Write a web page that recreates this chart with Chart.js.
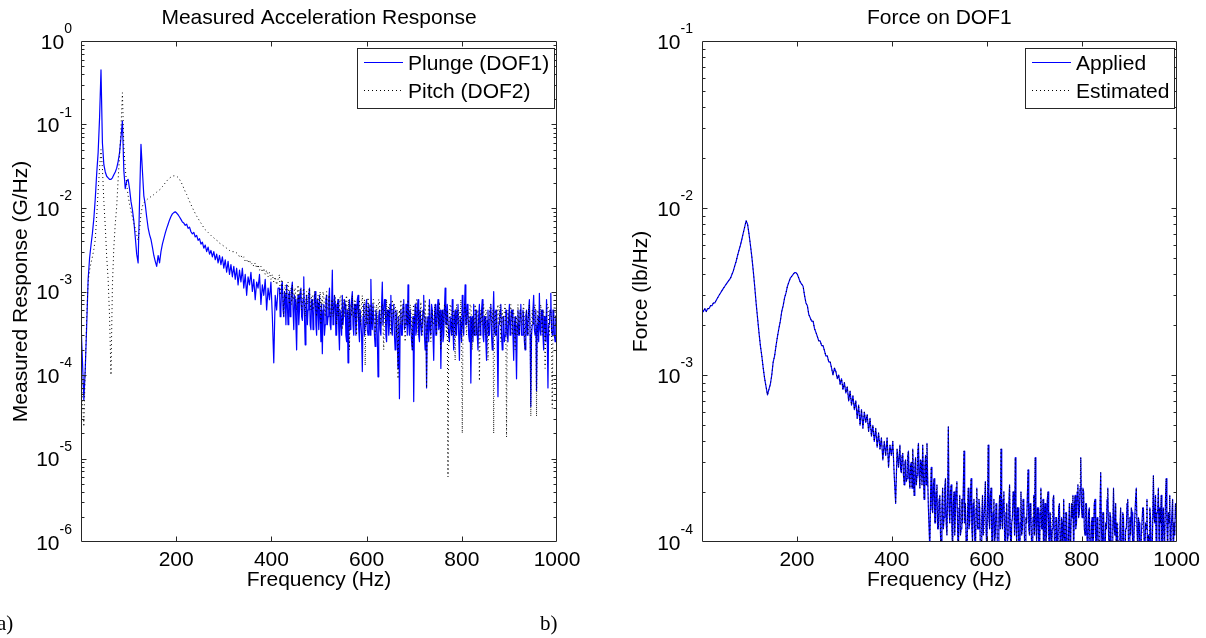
<!DOCTYPE html>
<html>
<head>
<meta charset="utf-8">
<title>Measured Acceleration Response / Force on DOF1</title>
<script src="https://cdn.jsdelivr.net/npm/chart.js@4.4.1/dist/chart.umd.min.js"></script>
<style>
  html, body { margin: 0; padding: 0; background: #fff; }
  #figure { position: relative; width: 1206px; height: 638px; overflow: hidden; }
  .panel { position: absolute; top: 0; width: 603px; height: 638px; }
  #panelA { left: 0; }
  #panelB { left: 603px; }
  .tag { position: absolute; top: 611px; line-height: 21px; font: 21px "Liberation Serif", "Times New Roman", serif; color: #000; }
</style>
</head>
<body>
<div id="figure">
  <div class="panel" id="panelA"><canvas id="responseChart" width="603" height="638"></canvas></div>
  <div class="panel" id="panelB"><canvas id="forceChart" width="603" height="638"></canvas></div>
  <div class="tag" style="left:-3px">a)</div>
  <div class="tag" style="left:540px">b)</div>
</div>
<script>
  // Low band: 0 ... 414 Hz every 3 Hz. High band: 417 ... 999 Hz every 1.5 Hz
  const LOW_STEP = 3;
  const HIGH_START = 417;
  const HIGH_STEP = 1.5;

  // Panel a) measured acceleration, G/Hz
  const plungeLow = [
    4.2e-4, 1.5e-4, 5e-5, 1.2e-4, 4e-4, 1.4e-3, 2.5e-3, 3.6e-3, 5e-3, 7.5e-3,
    1.3e-2, 2.6e-2, 4.6e-2, 0.12, 0.45, 0.06, 0.033, 0.027, 0.024, 0.023,
    0.022, 0.022, 0.023, 0.025, 0.027, 0.03, 0.036, 0.046, 0.07, 0.11,
    0.028, 0.017, 0.021, 0.022, 0.017, 0.012, 0.0095, 0.007, 0.0045, 0.0028,
    0.0022, 0.012, 0.058, 0.028, 0.014, 0.011, 0.0078, 0.0058, 0.0048, 0.0042,
    0.0034, 0.0027, 0.0023, 0.002, 0.0027, 0.0022, 0.003, 0.0037, 0.0043, 0.005,
    0.0057, 0.0064, 0.0072, 0.0079, 0.0085, 0.0088, 0.009, 0.0087, 0.0083, 0.0078,
    0.0073, 0.0068, 0.0066, 0.0062, 0.0064, 0.0057, 0.0059, 0.0052, 0.0049, 0.0051,
    0.0045, 0.0047, 0.0041, 0.0043, 0.0037, 0.0039, 0.0033, 0.0036, 0.003, 0.0034,
    0.0028, 0.0031, 0.0026, 0.003, 0.0024, 0.0028, 0.0022, 0.0027, 0.0021, 0.0026,
    0.0019, 0.0024, 0.0017, 0.0023, 0.0016, 0.0021, 0.0015, 0.002, 0.0014, 0.0019,
    0.0012, 0.0018, 0.0013, 0.0019, 0.0011, 0.0016, 0.0009, 0.0015, 0.0012, 0.0017,
    0.001, 0.0014, 0.0008, 0.0013, 0.0011, 0.0016, 0.0007, 0.0012, 0.0009, 0.0014,
    0.0006, 0.0011, 0.0008, 0.0013, 0.0005, 0.00014, 0.0009, 0.0006, 0.0011
  ];
  const plungeHigh = [
    1.1e-3, 5e-4, 6e-4, 1.2e-3, 1.3e-3, 6e-4, 5e-4, 1e-3, 9e-4, 4e-4, 1.2e-3, 7e-4, 4e-4, 9e-4, 1e-3, 5e-4, 7e-4, 1.1e-3, 1.3e-3, 6e-4,
    3.5e-4, 9e-4, 8e-4, 4e-4, 2e-4, 7e-4, 9e-4, 4e-4, 6e-4, 1e-3, 1.1e-3, 5e-4, 4.5e-4, 8e-4, 1.5e-3, 5e-4, 2.3e-4, 7e-4, 9e-4, 4e-4,
    6e-4, 9e-4, 1.1e-3, 4e-4, 3.5e-4, 8e-4, 8e-4, 3.5e-4, 5e-4, 9e-4, 1e-3, 4e-4, 3e-4, 8e-4, 7e-4, 3.5e-4, 9e-4, 5e-4, 2.5e-4, 7e-4,
    1.8e-4, 6e-4, 7e-4, 3e-4, 4e-4, 8e-4, 9e-4, 4e-4, 5e-4, 8e-4, 1.1e-3, 4e-4, 3.5e-4, 7e-4, 1.8e-3, 4e-4, 5e-4, 9e-4, 7e-4, 3e-4,
    3e-4, 7e-4, 8e-4, 3.5e-4, 2e-4, 6e-4, 6e-4, 3e-4, 9e-4, 4e-4, 4e-4, 8e-4, 7e-4, 3e-4, 2.5e-4, 6e-4, 1.4e-4, 5e-4, 8e-4, 3.5e-4,
    5e-4, 8e-4, 1e-3, 4e-4, 3e-4, 7e-4, 7e-4, 3e-4, 4.5e-4, 8e-4, 9e-4, 3.5e-4, 2.5e-4, 6e-4, 6e-4, 3e-4, 1.1e-4, 5e-4, 7e-4, 3e-4,
    4e-4, 7e-4, 8e-4, 3.5e-4, 3e-4, 7e-4, 6e-4, 3e-4, 1.4e-3, 5e-4, 3.5e-4, 7e-4, 7e-4, 3e-4, 2.2e-4, 6e-4, 5e-4, 3e-4, 9.5e-5, 5e-4,
    6e-4, 3.5e-4, 3e-4, 7e-4, 1.3e-3, 4e-4, 4e-4, 8e-4, 8e-4, 3e-4, 2.5e-4, 6e-4, 6e-4, 3e-4, 4e-4, 7e-4, 9e-4, 3.5e-4, 3e-4, 6e-4,
    7e-4, 3e-4, 2e-4, 6e-4, 5e-4, 2.5e-4, 1.2e-4, 5e-4, 5.2e-5, 4e-4, 6e-4, 3e-4, 3e-4, 7e-4, 8e-4, 3.5e-4, 4e-4, 7e-4, 7e-4, 3e-4,
    1.2e-3, 4e-4, 3e-4, 6e-4, 6e-4, 2.5e-4, 2e-4, 5e-4, 4.8e-5, 4e-4, 7e-4, 3e-4, 3.5e-4, 6e-4, 8e-4, 3e-4, 2.5e-4, 6e-4, 6e-4, 3e-4,
    4e-4, 6e-4, 9e-4, 3e-4, 2e-4, 5e-4, 7e-5, 4e-4, 5e-4, 2.5e-4, 8e-4, 3.5e-4, 3e-4, 7e-4, 6e-4, 3e-4, 1.5e-4, 5e-4, 7e-4, 3e-4,
    3e-4, 6e-4, 8e-4, 3.5e-4, 4e-4, 6e-4, 1.2e-4, 4e-4, 6e-4, 2.5e-4, 3e-4, 6e-4, 1.1e-3, 4e-4, 4e-4, 7e-4, 7e-4, 3e-4, 2.5e-4, 5e-4,
    5e-4, 3e-4, 8e-4, 3.5e-4, 2e-4, 5e-4, 6e-4, 3e-4, 3e-4, 6e-4, 7e-4, 3e-4, 1.5e-4, 5e-4, 5e-4, 2.5e-4, 9e-4, 4e-4, 3e-4, 6e-4,
    1.2e-3, 4e-4, 4e-4, 7e-4, 6e-4, 3e-4, 2.5e-4, 5e-4, 8e-5, 3.5e-4, 5e-4, 2.5e-4, 7e-4, 3e-4, 3e-4, 6e-4, 6e-4, 3e-4, 2e-4, 5e-4,
    7e-4, 3e-4, 4e-4, 6e-4, 8e-4, 3e-4, 2.5e-4, 5e-4, 5e-4, 2.5e-4, 1.5e-4, 4.5e-4, 6e-4, 3e-4, 3e-4, 6e-4, 7e-4, 3e-4, 2e-4, 5e-4,
    1e-3, 3.5e-4, 3e-4, 6e-4, 6e-4, 2.5e-4, 5.5e-5, 4e-4, 4e-4, 6e-4, 7e-4, 3e-4, 2e-4, 5e-4, 5e-4, 2.5e-4, 3e-4, 6e-4, 6e-4, 3e-4,
    2.5e-4, 5e-4, 7e-4, 3e-4, 4e-4, 6e-4, 6e-4, 3e-4, 1.5e-4, 4e-4, 5e-4, 2.5e-4, 9e-5, 4e-4, 6e-4, 3e-4, 3e-4, 6e-4, 7e-4, 3e-4,
    3e-4, 6e-4, 5e-4, 2.5e-4, 2e-4, 5e-4, 6e-4, 3e-4, 4e-4, 6e-4, 8e-4, 3e-4, 4.2e-5, 3e-4, 4e-4, 6e-4, 9e-4, 3.5e-4, 3e-4, 6e-4,
    6.5e-5, 4e-4, 5e-4, 2.5e-4, 9.5e-4, 3.5e-4, 3e-4, 6e-4, 6e-4, 3e-4, 2e-4, 5e-4, 5e-4, 2.5e-4, 8e-4, 3e-4, 7e-5, 4e-4, 4e-4, 6e-4,
    9.5e-4, 3.5e-4, 3e-4, 6e-4, 6e-4, 3e-4, 2.5e-4, 5e-4, 5e-4
  ];

  const pitchLow = [
    1.5e-4, 5e-5, 2.4e-5, 1.2e-4, 5e-4, 1.3e-3, 1.8e-3, 2.2e-3, 2.6e-3, 3.2e-3,
    4.2e-3, 8e-3, 0.016, 0.03, 0.05, 0.03, 0.012, 6e-3, 2.6e-3, 1.4e-3,
    5e-4, 1e-4, 1.2e-3, 3.4e-3, 6.5e-3, 0.0104, 0.022, 0.042, 0.09, 0.24,
    0.055, 0.03, 0.019, 0.014, 0.011, 0.0092, 0.0078, 0.0066, 0.0057, 0.0048,
    0.0041, 0.0055, 0.0085, 0.0105, 0.0115, 0.012, 0.0125, 0.013, 0.0133, 0.0137,
    0.014, 0.0145, 0.015, 0.0155, 0.016, 0.0165, 0.017, 0.018, 0.019, 0.02,
    0.021, 0.022, 0.0228, 0.0235, 0.024, 0.0243, 0.0243, 0.024, 0.0232, 0.022,
    0.0205, 0.019, 0.0172, 0.0157, 0.0145, 0.0132, 0.012, 0.011, 0.0101, 0.0093,
    0.0086, 0.008, 0.0075, 0.007, 0.0066, 0.0062, 0.0058, 0.0055, 0.0053, 0.0051,
    0.0049, 0.0047, 0.0045, 0.0044, 0.0042, 0.0041, 0.004, 0.0038, 0.0037, 0.0036,
    0.0035, 0.0034, 0.0033, 0.0032, 0.0031, 0.0031, 0.003, 0.003, 0.0029, 0.0029,
    0.0028, 0.0026, 0.0027, 0.0025, 0.0026, 0.0023, 0.0024, 0.0022, 0.0024, 0.0021,
    0.0022, 0.002, 0.0022, 0.0019, 0.0021, 0.0018, 0.002, 0.0017, 0.0019, 0.0016,
    0.0018, 0.0015, 0.0017, 0.0014, 0.0016, 0.0013, 0.0015, 0.0012, 0.0014
  ];
  const pitchHigh = [
    1.6e-3, 9e-4, 1.1e-3, 1.4e-3, 1.3e-3, 8e-4, 5e-4, 1e-3, 1.2e-3, 8e-4, 9e-4, 1.2e-3, 1.3e-3, 8e-4, 7e-4, 1.1e-3, 1.1e-3, 7e-4, 1.2e-3, 8e-4,
    8e-4, 1.1e-3, 1.1e-3, 7e-4, 6e-4, 9e-4, 1.2e-3, 7e-4, 9e-4, 1.1e-3, 1e-3, 6e-4, 7e-4, 1e-3, 1.1e-3, 7e-4, 5e-4, 8e-4, 1e-3, 7e-4,
    8e-4, 1e-3, 1.1e-3, 7e-4, 6e-4, 9e-4, 9e-4, 6e-4, 7e-4, 1e-3, 1e-3, 6e-4, 5e-4, 8e-4, 9e-4, 6e-4, 8e-4, 1e-3, 4e-4, 8e-4,
    7e-4, 1e-3, 9e-4, 6e-4, 5e-4, 8e-4, 1e-3, 6e-4, 6e-4, 9e-4, 9e-4, 5e-4, 5e-4, 8e-4, 8e-4, 5e-4, 7e-4, 9e-4, 9e-4, 6e-4,
    4e-4, 7e-4, 8e-4, 5e-4, 6e-4, 9e-4, 9e-4, 5e-4, 3.5e-4, 7e-4, 8e-4, 5e-4, 6e-4, 8e-4, 9e-4, 5e-4, 5e-4, 8e-4, 2e-4, 7e-4,
    7e-4, 5e-4, 9e-4, 6e-4, 5e-4, 8e-4, 8e-4, 4e-4, 3e-4, 7e-4, 7e-4, 4.5e-4, 8e-4, 5e-4, 4e-4, 7e-4, 9e-4, 5e-4, 6e-4, 8e-4,
    1.3e-4, 6e-4, 7e-4, 4e-4, 8.5e-4, 5e-4, 4e-4, 7e-4, 7e-4, 4e-4, 5e-4, 8e-4, 8e-4, 4.5e-4, 3e-4, 6e-4, 7e-4, 4e-4, 6e-4, 8e-4,
    8e-4, 5e-4, 4e-4, 7e-4, 7e-4, 4e-4, 2e-4, 6e-4, 6e-4, 4e-4, 8e-4, 5e-4, 5e-4, 7e-4, 7e-4, 4e-4, 3e-4, 6e-4, 8e-4, 5e-4,
    5e-4, 7e-4, 7e-4, 4e-4, 3e-4, 6e-4, 9e-5, 5e-4, 6e-4, 4e-4, 8e-4, 5e-4, 4e-4, 7e-4, 7e-4, 4e-4, 2.5e-4, 5e-4, 6e-4, 4e-4,
    8e-4, 4.5e-4, 4e-4, 7e-4, 6e-4, 4e-4, 2e-4, 6e-4, 7e-4, 4e-4, 5e-4, 7e-4, 8e-4, 4.5e-4, 3e-4, 6e-4, 6e-4, 4e-4, 7.5e-4, 4.5e-4,
    3e-4, 6e-4, 6e-4, 4e-4, 8e-4, 4.5e-4, 7e-5, 4e-4, 5e-4, 7e-4, 7e-4, 4e-4, 2.5e-4, 5e-4, 6e-4, 4e-4, 4e-4, 6e-4, 7e-4, 4e-4,
    3e-4, 6e-4, 6e-4, 4e-4, 7.5e-4, 4e-4, 2e-4, 5e-4, 6e-4, 4e-4, 4e-4, 7e-4, 7e-4, 4e-4, 3e-4, 6e-4, 6e-6, 4e-4, 5e-4, 7e-4,
    7e-4, 4e-4, 3e-4, 6e-4, 6e-4, 4e-4, 1.5e-4, 5e-4, 7e-4, 4e-4, 4e-4, 6e-4, 6e-4, 4e-4, 8e-4, 4.5e-4, 2e-5, 4e-4, 5e-4, 7e-4,
    7e-4, 4e-4, 3e-4, 6e-4, 6e-4, 4e-4, 4e-4, 7e-4, 7e-4, 4e-4, 2e-4, 5e-4, 5e-4, 3e-4, 7e-4, 4e-4, 3e-4, 6e-4, 6e-4, 4e-4,
    8.5e-5, 4e-4, 6e-4, 4e-4, 4e-4, 6e-4, 7e-4, 4e-4, 3e-4, 6e-4, 6e-4, 4e-4, 1.5e-4, 4e-4, 5e-4, 7e-4, 7e-4, 4e-4, 4e-4, 6e-4,
    2e-5, 4e-4, 6e-4, 4e-4, 3e-4, 6e-4, 7e-4, 4e-4, 5e-4, 7e-4, 2.5e-4, 5e-4, 6e-4, 4e-4, 4e-4, 6e-4, 7e-4, 4e-4, 1.8e-5, 4e-4,
    6e-4, 4e-4, 4e-4, 6e-4, 7e-4, 4e-4, 3e-4, 6e-4, 6e-4, 4e-4, 2e-4, 5e-4, 5e-4, 3e-4, 7e-4, 4e-4, 3e-4, 6e-4, 6e-4, 4e-4,
    4e-4, 6e-4, 7e-4, 4e-4, 2e-4, 5e-4, 6e-4, 4e-4, 3e-4, 6e-4, 7e-4, 4e-4, 3.2e-5, 4e-4, 6e-4, 4e-4, 4e-4, 6e-4, 7e-4, 4e-4,
    3.2e-5, 4e-4, 6e-4, 4e-4, 4e-4, 6e-4, 7e-4, 4e-4, 3e-4, 6e-4, 6e-4, 4e-4, 1.2e-4, 4e-4, 5e-4, 7e-4, 7e-4, 4e-4, 3e-4, 6e-4,
    6e-4, 4e-4, 4e-5, 4e-4, 5e-4, 7e-4, 7e-4, 4e-4, 4e-4
  ];

  // Panel b) force on DOF1, lb/Hz
  const appliedLow = [
    0.00245, 0.0024, 0.0025, 0.0024, 0.0025, 0.0025, 0.0026, 0.0026, 0.0027, 0.0027,
    0.0028, 0.0029, 0.003, 0.0031, 0.0032, 0.0033, 0.0034, 0.0035, 0.0036, 0.0037,
    0.0038, 0.004, 0.0042, 0.0045, 0.0048, 0.0052, 0.0056, 0.006, 0.0065, 0.0071,
    0.0077, 0.0084, 0.008, 0.007, 0.006, 0.0051, 0.0042, 0.0034, 0.0027, 0.0022,
    0.0018, 0.0015, 0.0013, 0.0011, 0.00095, 0.00085, 0.00076, 0.00082, 0.00088, 0.001,
    0.0012, 0.0013, 0.0015, 0.0017, 0.0019, 0.0021, 0.0024, 0.0026, 0.0029, 0.0031,
    0.0034, 0.0036, 0.0038, 0.0039, 0.004, 0.0041, 0.0041, 0.004, 0.0038, 0.0036,
    0.0035, 0.0034, 0.003, 0.0027, 0.0026, 0.0023, 0.0022, 0.0021, 0.0021, 0.0019,
    0.0018, 0.0017, 0.0016, 0.0016, 0.0015, 0.0015, 0.0014, 0.0013, 0.0013, 0.0012,
    0.0012, 0.0011, 0.001, 0.0011, 0.00105, 0.00095, 0.001, 0.00088, 0.00095, 0.00082,
    0.0009, 0.00078, 0.00085, 0.0007, 0.0008, 0.00066, 0.00075, 0.00062, 0.0007, 0.00055,
    0.00066, 0.0005, 0.00062, 0.00048, 0.0006, 0.00052, 0.00058, 0.00046, 0.00055, 0.00043,
    0.0005, 0.0004, 0.00048, 0.00037, 0.00045, 0.00036, 0.00042, 0.00031, 0.0004, 0.00033,
    0.00042, 0.00028, 0.00038, 0.00033, 0.0004, 0.00025, 0.00017, 0.00036, 0.00028
  ];
  const appliedHigh = [
    0.00038, 0.00027,
    0.00026, 0.00033, 0.00034, 0.00025, 0.00022, 0.0003, 0.00031, 0.00023, 0.00024, 0.00033, 0.00035, 0.00024, 0.00021, 0.00029, 0.0003, 0.00021, 0.00036, 0.00025, 0.00019, 0.00028,
    0.00032, 0.00022, 0.00025, 0.00034, 0.00039, 0.00026, 0.00021, 0.00031, 0.0003, 0.00022, 0.00038, 0.00025, 0.00018, 0.00028, 0.00033, 0.00022, 0.00039, 0.00024, 0.00016, 0.00012,
    0.00009, 0.00019, 0.00028, 0.00016, 0.00015, 0.00022, 0.00024, 0.00013, 0.00013, 0.0002, 0.00022, 0.00012, 0.00012, 0.00018, 0.00019, 0.00011, 0.00008, 0.00016, 0.00021, 0.00012,
    0.00014, 0.00021, 0.00024, 0.00013, 0.00011, 0.00019, 0.00049, 0.00016, 0.00013, 0.0002, 0.00022, 0.00012, 0.00009, 0.00017, 0.0002, 0.00011, 0.00015, 0.00021, 0.00023, 0.00012,
    0.00008, 0.00016, 0.00019, 0.00011, 0.00012, 0.00018, 0.00013, 0.00021, 0.00035, 0.00013, 0.00017, 0.0001, 0.00007, 0.00015, 0.00021, 0.00012, 0.00013, 0.00019, 0.00024, 0.00012,
    0.0001, 0.00017, 0.00018, 0.00011, 0.00008, 0.00016, 0.00021, 0.00012, 0.00012, 0.00018, 0.00016, 0.00009, 0.00007, 0.00014, 0.00019, 0.00011, 0.00011, 0.00017, 0.00023, 0.00012,
    0.00009, 0.00016, 0.00038, 0.00014, 0.00012, 0.00019, 0.00021, 0.00011, 0.00008, 0.00015, 0.00018, 0.0001, 0.00011, 0.00017, 0.00015, 0.00009, 0.00007, 0.00014, 0.00019, 0.00012,
    0.00036, 0.00014, 0.00012, 0.00018, 0.0002, 0.00011, 0.00008, 0.00015, 0.00017, 0.0001, 0.00011, 0.00017, 0.00022, 0.00012, 0.00007, 0.00013, 0.00014, 0.0002, 0.00019, 0.00011,
    0.00032, 0.00013, 0.0001, 0.00016, 0.00016, 0.00009, 0.00006, 0.00013, 0.0002, 0.00011, 0.00012, 0.00018, 0.00017, 0.0001, 0.00008, 0.00014, 0.00013, 0.00019, 0.00027, 0.00012,
    0.00011, 0.00017, 0.00015, 0.00009, 0.00007, 0.00014, 0.00019, 0.00011, 0.00032, 0.00013, 0.0001, 0.00016, 0.00016, 0.00009, 0.00008, 0.00015, 0.00021, 0.00012, 0.00012, 0.00018,
    0.00006, 0.00013, 0.00017, 0.0001, 0.00011, 0.00018, 0.0002, 0.00011, 0.00008, 0.00015, 0.00015, 0.00009, 0.00012, 0.00018, 0.00019, 0.0001, 0.00007, 0.00014, 0.00014, 0.00009,
    0.0001, 0.00016, 0.00017, 0.0001, 0.00008, 0.00014, 0.00013, 0.00008, 0.00018, 0.00011, 0.00009, 0.00015, 0.00015, 0.00009, 0.00006, 0.00012, 0.00017, 0.0001, 0.00011, 0.00017,
    0.00014, 0.00019, 0.00008, 0.00016, 0.00019, 0.00012, 0.00013, 0.0002, 0.00022, 0.00014, 0.00015, 0.00021, 0.00032, 0.00016, 0.00014, 0.00021, 0.0002, 0.00012, 0.00011, 0.00017,
    0.00017, 0.0001, 0.00009, 0.00015, 0.00016, 0.00009, 0.00007, 0.00013, 0.00014, 0.00009, 0.00011, 0.00017, 0.00018, 0.0001, 0.00008, 0.00014, 0.00013, 0.00008, 0.0001, 0.00016,
    0.00026, 0.00012, 0.00009, 0.00015, 0.00015, 0.00009, 0.00007, 0.00013, 0.00012, 0.00018, 0.00021, 0.00011, 0.00009, 0.00015, 0.00014, 0.00008, 0.00006, 0.00012, 0.00021, 0.00012,
    0.00011, 0.00017, 0.00008, 0.00013, 0.00013, 0.00008, 0.00007, 0.00012, 0.00016, 0.00009, 0.0001, 0.00015, 0.00014, 0.00008, 0.00006, 0.00012, 0.00012, 0.00017, 0.00018, 0.0001,
    0.00008, 0.00014, 0.00011, 0.00016, 0.00015, 0.00009, 0.00007, 0.00012, 0.00012, 0.00018, 0.00021, 0.00012, 0.00009, 0.00014, 0.00013, 0.00008, 0.00006, 0.00011, 0.00011, 0.00016,
    0.00016, 0.0001, 0.00008, 0.00013, 0.00012, 0.00018, 0.00006, 0.00011, 0.0001, 0.00016, 0.00014, 0.00009, 0.00007, 0.00013, 0.00025, 0.00014, 0.00013, 0.00019, 0.00009, 0.00015,
    0.00015, 0.00021, 0.0001, 0.00016, 0.00013, 0.00019, 0.00007, 0.00013, 0.00016, 0.0001, 0.00011, 0.00018, 0.00024, 0.00013, 0.00009, 0.00015, 0.00013, 0.00019, 0.00006, 0.00012,
    0.00012, 0.00018, 0.00008, 0.00013, 0.00011, 0.00017, 0.00014
  ];
  // the estimate sits right on top of the applied force in the plot
  const estimatedLow = appliedLow;
  const estimatedHigh = appliedHigh;

  const xTicks = [200, 400, 600, 800, 1000];

  const FONT = '"Liberation Sans", Arial, Helvetica, sans-serif';
  const AXIS_COLOR = '#262626';

  function toPoints(low, high) {
    const lowPts = low.map((v, i) => ({ x: i * LOW_STEP, y: v }));
    const highPts = high.map((v, i) => ({ x: HIGH_START + i * HIGH_STEP, y: v }));
    return lowPts.concat(highPts);
  }

  // MATLAB look: boxed axes, inward ticks, 10^n labels, title and legend box
  const matlabFrame = {
    id: 'matlabFrame',
    afterDatasetsDraw(chart, args, opts) {
      const { ctx, chartArea: area } = chart;
      const xScale = chart.scales.x;
      const yScale = chart.scales.y;
      const left = Math.round(area.left) + 0.5;
      const right = Math.round(area.right) - 0.5;
      const top = Math.round(area.top) + 0.5;
      const bottom = Math.round(area.bottom) - 0.5;

      ctx.save();
      ctx.strokeStyle = AXIS_COLOR;
      ctx.lineWidth = 1;
      ctx.beginPath();
      ctx.rect(left, top, right - left, bottom - top);

      xScale.ticks.forEach(tick => {
        if (tick.value <= xScale.min || tick.value >= xScale.max) return;
        const px = Math.round(xScale.getPixelForValue(tick.value)) + 0.5;
        ctx.moveTo(px, bottom); ctx.lineTo(px, bottom - 5);
        ctx.moveTo(px, top); ctx.lineTo(px, top + 5);
      });

      const lowExp = Math.round(Math.log10(yScale.min));
      const highExp = Math.round(Math.log10(yScale.max));
      for (let e = lowExp; e < highExp; e++) {
        for (let m = 1; m <= 9; m++) {
          const py = Math.round(yScale.getPixelForValue(m * Math.pow(10, e))) + 0.5;
          if (py >= bottom - 1 || py <= top + 1) continue;
          const len = m === 1 ? 5 : 3;
          ctx.moveTo(left, py); ctx.lineTo(left + len, py);
          ctx.moveTo(right, py); ctx.lineTo(right - len, py);
        }
      }
      ctx.stroke();

      // decade labels as 10 with a raised exponent
      ctx.fillStyle = '#000';
      ctx.textBaseline = 'alphabetic';
      for (let e = lowExp; e <= highExp; e++) {
        const py = yScale.getPixelForValue(Math.pow(10, e));
        const exp = String(e);
        const xEnd = area.left - 9;
        ctx.font = '14px ' + FONT;
        const expWidth = ctx.measureText(exp).width;
        ctx.textAlign = 'left';
        ctx.fillText(exp, xEnd - expWidth, py - 8);
        ctx.font = '21px ' + FONT;
        ctx.textAlign = 'right';
        ctx.fillText('10', xEnd - expWidth, py + 7.5);
      }

      // title centred over the axes
      ctx.font = '21px ' + FONT;
      ctx.textAlign = 'center';
      ctx.fillText(opts.title, (area.left + area.right) / 2, 24);

      // legend box in the upper right corner
      const sets = chart.data.datasets;
      const textWidth = Math.max(...sets.map(d => ctx.measureText(d.label).width));
      const boxRight = Math.round(area.right) - 3;
      const boxLeft = Math.round(boxRight - (51 + textWidth + 5));
      const boxTop = Math.round(area.top) + 7;
      ctx.fillStyle = '#fff';
      ctx.fillRect(boxLeft, boxTop, boxRight - boxLeft, 60);
      ctx.strokeStyle = AXIS_COLOR;
      ctx.strokeRect(boxLeft + 0.5, boxTop + 0.5, boxRight - boxLeft, 60);
      ctx.textAlign = 'left';
      sets.forEach((d, i) => {
        const baseY = boxTop + 22 + i * 28;
        const lineY = Math.round(baseY - 8) + 0.5;
        ctx.strokeStyle = d.borderColor;
        ctx.lineWidth = 1;
        ctx.setLineDash(d.borderDash || []);
        ctx.beginPath();
        ctx.moveTo(boxLeft + 7, lineY);
        ctx.lineTo(boxLeft + 46, lineY);
        ctx.stroke();
        ctx.setLineDash([]);
        ctx.fillStyle = '#000';
        ctx.fillText(d.label, boxLeft + 51, baseY);
      });
      ctx.restore();
    }
  };

  function lineSet(label, points, color, width, dash, order) {
    return {
      label: label,
      data: points,
      borderColor: color,
      borderWidth: width,
      borderDash: dash,
      borderJoinStyle: 'round',
      pointRadius: 0,
      tension: 0,
      fill: false,
      order: order
    };
  }

  function makeOptions(cfg) {
    return {
      responsive: false,
      animation: false,
      events: [],
      layout: { padding: { top: 41, right: cfg.rightPad, bottom: 0, left: 0 } },
      plugins: {
        legend: { display: false },
        tooltip: { enabled: false },
        matlabFrame: { title: cfg.title }
      },
      scales: {
        x: {
          type: 'linear',
          min: 0,
          max: 1000,
          grid: { display: false, drawTicks: false },
          border: { display: false },
          afterBuildTicks: scale => { scale.ticks = xTicks.map(v => ({ value: v })); },
          ticks: {
            autoSkip: false,
            maxRotation: 0,
            padding: 6,
            color: '#000',
            font: { family: FONT, size: 21 },
            callback: v => String(v)
          },
          title: {
            display: true,
            text: 'Frequency (Hz)',
            color: '#000',
            font: { family: FONT, size: 21 },
            padding: { top: 0, bottom: 45 }
          },
          afterFit: scale => { scale.height = 96; }
        },
        y: {
          type: 'logarithmic',
          min: cfg.yMin,
          max: cfg.yMax,
          grid: { display: false, drawTicks: false },
          border: { display: false },
          ticks: { display: false },
          title: {
            display: true,
            text: cfg.yTitle,
            color: '#000',
            font: { family: FONT, size: 21 },
            padding: { top: cfg.yTitlePad, bottom: 0 }
          },
          afterFit: scale => { scale.width = cfg.yWidth; }
        }
      }
    };
  }

  new Chart(document.getElementById('responseChart'), {
    type: 'line',
    data: {
      datasets: [
        lineSet('Plunge (DOF1)', toPoints(plungeLow, plungeHigh), '#0000ff', 1.2, [], 1),
        lineSet('Pitch (DOF2)', toPoints(pitchLow, pitchHigh), '#000000', 1, [1, 3], 0)
      ]
    },
    options: makeOptions({
      title: 'Measured Acceleration Response',
      yTitle: 'Measured Response (G/Hz)',
      yMin: 1e-6, yMax: 1,
      yWidth: 81, yTitlePad: 9, rightPad: 46
    }),
    plugins: [matlabFrame]
  });

  new Chart(document.getElementById('forceChart'), {
    type: 'line',
    data: {
      datasets: [
        lineSet('Applied', toPoints(appliedLow, appliedHigh), '#0000ff', 1.2, [], 1),
        lineSet('Estimated', toPoints(estimatedLow, estimatedHigh), '#000000', 1, [1, 3], 0)
      ]
    },
    options: makeOptions({
      title: 'Force on DOF1',
      yTitle: 'Force (lb/Hz)',
      yMin: 1e-4, yMax: 1e-1,
      yWidth: 99, yTitlePad: 26, rightPad: 29
    }),
    plugins: [matlabFrame]
  });
</script>
</body>
</html>
